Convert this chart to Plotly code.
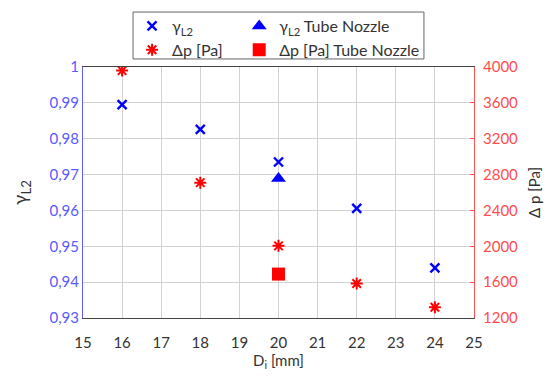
import plotly.graph_objects as go

d_i = [16, 18, 20, 22, 24]
gamma_l2 = [0.9895, 0.9826, 0.9735, 0.9606, 0.9440]
dp_pa = [3960, 2710, 2005, 1585, 1320]
tube_d = [20]
tube_gamma = [0.9689]
tube_dp = [1690]

fig = go.Figure()
fig.add_trace(go.Scatter(x=d_i, y=gamma_l2, mode="markers", name="γ<sub>L2</sub>", legend="legend",
                         marker=dict(symbol="x-thin-open", size=9, color="blue",
                                     line=dict(width=2.4, color="blue"))))
fig.add_trace(go.Scatter(x=d_i, y=dp_pa, mode="markers", name="Δp [Pa]", yaxis="y2", legend="legend",
                         marker=dict(symbol="asterisk-open", size=10, color="red",
                                     line=dict(width=2, color="red"))))
fig.add_trace(go.Scatter(x=tube_d, y=tube_gamma, mode="markers", name="γ<sub>L2</sub> Tube Nozzle",
                         legend="legend2",
                         marker=dict(symbol="triangle-up", size=13, color="blue")))
fig.add_trace(go.Scatter(x=tube_d, y=tube_dp, mode="markers", name="Δp [Pa] Tube Nozzle", yaxis="y2",
                         legend="legend2",
                         marker=dict(symbol="square", size=13, color="red")))

font_family = "Lato, Open Sans, sans-serif"
leg_common = dict(orientation="v", xanchor="left", yanchor="top", y=1.231,
                  borderwidth=0, bgcolor="rgba(0,0,0,0)", tracegroupgap=0,
                  font=dict(size=16, color="#333"))
fig.update_layout(
    width=546, height=372,
    margin=dict(l=75, r=80, t=59, b=62, autoexpand=False),
    paper_bgcolor="white", plot_bgcolor="white",
    separators=",.",
    font=dict(family=font_family, size=15, color="#333"),
    showlegend=True,
    legend=dict(leg_common, x=0.1255),
    legend2=dict(leg_common, x=0.3995),
    shapes=[dict(type="rect", xref="paper", yref="paper", x0=0.128, x1=0.872, y0=1.032, y1=1.219,
                 line=dict(color="#666", width=1), fillcolor="rgba(0,0,0,0)", layer="below")],
    xaxis=dict(range=[15, 25], dtick=1, tick0=15, showgrid=True, gridcolor="#d3d3d3",
               showline=True, linecolor="#444", linewidth=1, mirror=True, ticks="",
               ticklabelstandoff=11,
               zeroline=False, title=dict(text="D<sub>i</sub> [mm]", font=dict(size=15), standoff=5),
               tickfont=dict(size=15, color="#333")),
    yaxis=dict(range=[0.93, 1.0], dtick=0.01, tick0=0.93, showgrid=True, gridcolor="#d3d3d3",
               showline=True, linecolor="#6060ff", linewidth=1, ticks="", zeroline=False,
               tickfont=dict(size=15, color="#5a5aff"),
               title=dict(text="γ<sub>L2</sub>", font=dict(size=19, color="#333"), standoff=20)),
    yaxis2=dict(range=[1200, 4000], dtick=400, tick0=1200, overlaying="y", side="right",
                showgrid=False, showline=True, linecolor="#ff5050", linewidth=1,
                ticks="inside", ticklen=4, tickcolor="#ff5050", zeroline=False,
                ticklabelstandoff=5,
                tickfont=dict(size=15, color="#ff4d4d"),
                title=dict(text="Δ p [Pa]", font=dict(size=15, color="#333"), standoff=12)),
)

fig.write_html("out.html")
